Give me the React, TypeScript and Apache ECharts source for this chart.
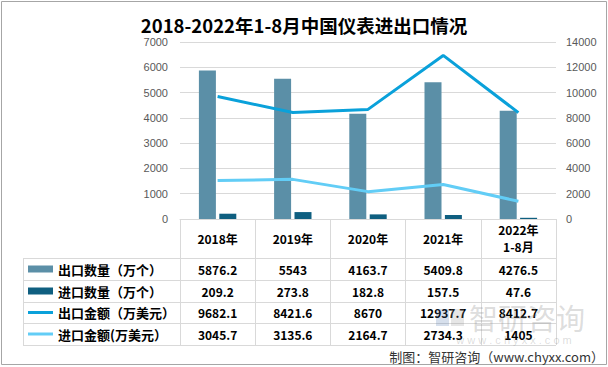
import React, { useEffect, useRef } from "react";
import * as echarts from "echarts";

const categories = ["2018年", "2019年", "2020年", "2021年", "2022年\n1-8月"];
const seriesNames = ["出口数量（万个）", "进口数量（万个）", "出口金额（万美元）", "进口金额(万美元）"];
const exportQty = [5876.2, 5543, 4163.7, 5409.8, 4276.5];
const importQty = [209.2, 273.8, 182.8, 157.5, 47.6];
const exportAmt = [9682.1, 8421.6, 8670, 12937.7, 8412.7];
const importAmt = [3045.7, 3135.6, 2164.7, 2734.3, 1405];
const tableRows = [exportQty, importQty, exportAmt, importAmt];

const colors = ["#5b8fa7", "#0f5f80", "#0aa1da", "#62cdf6"];
const CJK = "'Noto Sans CJK SC', 'Microsoft YaHei', sans-serif";
const LATIN = "'Liberation Sans', Arial, sans-serif";

// layout
const GRID_LEFT = 180;
const GRID_RIGHT = 52;
const GRID_TOP = 42;
const GRID_BOTTOM = 148;
const AXIS_Y = 219;
const TABLE_LEFT = 23;
const TABLE_RIGHT = 556;
const ROW_LINES = [258, 280, 302, 323, 345];

export default function App() {
  const ref = useRef<HTMLDivElement>(null);

  useEffect(() => {
    if (!ref.current) return;
    const chart = echarts.init(ref.current, undefined, { renderer: "svg" });

    const rowCenters = ROW_LINES.slice(0, 4).map((y, i) => (y + ROW_LINES[i + 1]) / 2);

    const legends = seriesNames.map((name, i) => ({
      data: [{ name, icon: "rect" }],
      orient: "vertical",
      left: 28,
      top: rowCenters[i] - 7,
      padding: 0,
      itemWidth: 25,
      itemHeight: i < 2 ? 7 : 3,
      itemGap: 0,
      selectedMode: false,
      textStyle: {
        fontSize: 13,
        fontWeight: "bold",
        color: "#000",
        fontFamily: CJK,
        lineHeight: 14,
      },
    }));

    chart.setOption({
      animation: false,
      backgroundColor: "#fff",
      title: {
        text: "2018-2022年1-8月中国仪表进出口情况",
        left: "center",
        top: 14,
        padding: 0,
        textStyle: {
          fontSize: 18.5,
          fontWeight: "bold",
          color: "#000",
          fontFamily: CJK,
          lineHeight: 22,
        },
      },
      legend: legends,
      grid: {
        left: GRID_LEFT,
        right: GRID_RIGHT,
        top: GRID_TOP,
        bottom: GRID_BOTTOM,
        containLabel: false,
      },
      xAxis: {
        type: "category",
        data: categories,
        axisLine: { show: true, lineStyle: { color: "#d9d9d9", width: 1 } },
        axisTick: {
          show: true,
          interval: 0,
          length: ROW_LINES[4] - AXIS_Y,
          lineStyle: { color: "#d9d9d9", width: 1 },
        },
        axisLabel: {
          interval: 0,
          margin: 19,
          verticalAlign: "middle",
          fontSize: 12,
          fontWeight: "bold",
          color: "#000",
          fontFamily: CJK,
          lineHeight: 17,
        },
      },
      yAxis: [
        {
          type: "value",
          min: 0,
          max: 7000,
          interval: 1000,
          axisLine: { show: false },
          axisTick: { show: false },
          splitLine: { lineStyle: { color: "#d9d9d9" } },
          axisLabel: {
            color: "#595959",
            fontSize: 11,
            margin: 12,
            fontFamily: LATIN,
            formatter: (v: number) => String(v),
          },
        },
        {
          type: "value",
          min: 0,
          max: 14000,
          interval: 2000,
          axisLine: { show: false },
          axisTick: { show: false },
          splitLine: { show: false },
          axisLabel: {
            color: "#595959",
            fontSize: 11,
            margin: 10,
            fontFamily: LATIN,
            formatter: (v: number) => String(v),
          },
        },
      ],
      series: [
        {
          name: seriesNames[0],
          type: "bar",
          data: exportQty,
          barWidth: 17,
          barGap: "20%",
          itemStyle: { color: colors[0] },
          z: 2,
        },
        {
          name: seriesNames[1],
          type: "bar",
          data: importQty,
          barWidth: 17,
          barGap: "20%",
          itemStyle: { color: colors[1] },
          z: 2,
        },
        {
          name: seriesNames[2],
          type: "line",
          yAxisIndex: 1,
          data: exportAmt,
          symbol: "none",
          lineStyle: { color: colors[2], width: 3 },
          itemStyle: { color: colors[2] },
          z: 3,
        },
        {
          name: seriesNames[3],
          type: "line",
          yAxisIndex: 1,
          data: importAmt,
          symbol: "none",
          lineStyle: { color: colors[3], width: 3 },
          itemStyle: { color: colors[3] },
          z: 3,
        },
      ],
    });

    const xs = categories.map((_, i) => chart.convertToPixel({ xAxisIndex: 0 }, i) as number);

    const graphics: any[] = [];
    // outer border
    graphics.push({
      type: "rect",
      shape: { x: 1.5, y: 1.5, width: 605, height: 363 },
      style: { fill: "none", stroke: "#a6a6a6", lineWidth: 1 },
      z: 10,
    });
    // table horizontal lines
    ROW_LINES.forEach((y) => {
      graphics.push({
        type: "line",
        shape: { x1: TABLE_LEFT, y1: y + 0.5, x2: TABLE_RIGHT, y2: y + 0.5 },
        style: { stroke: "#d9d9d9", lineWidth: 1 },
        z: 1,
      });
    });
    // table left vertical
    graphics.push({
      type: "line",
      shape: { x1: TABLE_LEFT + 0.5, y1: ROW_LINES[0], x2: TABLE_LEFT + 0.5, y2: ROW_LINES[4] },
      style: { stroke: "#d9d9d9", lineWidth: 1 },
      z: 1,
    });
    // table values
    tableRows.forEach((row, r) => {
      row.forEach((v, c) => {
        graphics.push({
          type: "text",
          x: xs[c],
          y: rowCenters[r],
          style: {
            text: String(v),
            fontSize: 12,
            fontWeight: "bold",
            fill: "#000",
            fontFamily: CJK,
            align: "center",
            verticalAlign: "middle",
          },
          z: 5,
        });
      });
    });
    // watermark (faint, as in the reference)
    graphics.push({
      type: "text",
      x: 469,
      y: 317,
      style: {
        text: "智研咨询",
        fontSize: 29,
        fill: "rgba(140,140,140,0.3)",
        fontFamily: CJK,
        align: "left",
        verticalAlign: "middle",
      },
      z: 20,
    });
    graphics.push({
      type: "rect",
      shape: { x: 436, y: 309, width: 13, height: 17 },
      style: { fill: "rgba(70,110,170,0.22)" },
      z: 20,
    });
    graphics.push({
      type: "rect",
      shape: { x: 451, y: 309, width: 13, height: 17 },
      style: { fill: "rgba(140,140,140,0.22)" },
      z: 20,
    });
    graphics.push({
      type: "text",
      x: 514,
      y: 340,
      style: {
        text: "w w w . c h y x x . c o m",
        fontSize: 11,
        fill: "rgba(140,140,140,0.3)",
        fontFamily: LATIN,
        align: "center",
        verticalAlign: "middle",
      },
      z: 20,
    });
    // source
    graphics.push({
      type: "text",
      x: 604,
      y: 356,
      style: {
        text: "制图：智研咨询（www.chyxx.com）",
        fontSize: 13,
        fill: "#333",
        fontFamily: CJK,
        align: "right",
        verticalAlign: "middle",
      },
      z: 21,
    });

    chart.setOption({ graphic: graphics });

    return () => chart.dispose();
  }, []);

  return (
    <div
      ref={ref}
      style={{ position: "absolute", left: 0, top: 0, width: 608, height: 367 }}
    />
  );
}
